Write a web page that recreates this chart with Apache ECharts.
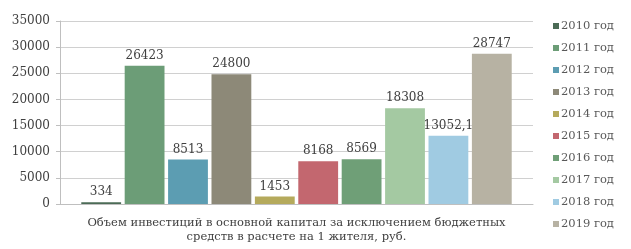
<!DOCTYPE html>
<html>
<head>
<meta charset="utf-8">
<script src="https://cdn.jsdelivr.net/npm/echarts@6/dist/echarts.min.js"></script>
<style>
    html, body { margin: 0; padding: 0; background: #fff; }
    #main { width: 631px; height: 249px; }
</style>
</head>
<body>
<div id="main"></div>
<script>
var years = ['2010 год', '2011 год', '2012 год', '2013 год', '2014 год',
    '2015 год', '2016 год', '2017 год', '2018 год', '2019 год'];
var values = [334, 26423, 8513, 24800, 1453, 8168, 8569, 18308, 13052.1, 28747];
var colors = ['#4b6b56', '#6c9d77', '#5c9db2', '#8d8978', '#b5aa5c',
    '#c3676f', '#6f9f77', '#a4c9a2', '#a0cbe2', '#b7b2a3'];
var categoryName = 'Объем инвестиций в основной капитал за исключением бюджетных\nсредств в расчете на 1 жителя, руб.';

var font = 'DejaVu Serif';

var seriesList = [];
for (var i = 0; i < years.length; i++) {
    seriesList.push({
        name: years[i],
        type: 'bar',
        data: [values[i]],
        barGap: '9%',
        barCategoryGap: '9%',
        itemStyle: { color: colors[i] },
        label: {
            show: true,
            position: 'top',
            distance: 4,
            color: '#404040',
            fontFamily: font,
            fontSize: 12,
            formatter: function (p) {
                return String(p.value).replace('.', ',');
            }
        }
    });
}

var myChart = echarts.init(document.getElementById('main'));
myChart.setOption({
    animation: false,
    color: colors,
    grid: { left: 60, right: 98, top: 21, bottom: 41 },
    legend: {
        orient: 'vertical',
        left: 548,
        top: 15,
        icon: 'rect',
        itemWidth: 6,
        itemHeight: 6,
        itemGap: 10,
        textStyle: {
            color: '#595959',
            fontFamily: font,
            fontSize: 11.5,
            lineHeight: 12,
            padding: [0, 0, 0, -3]
        },
        data: years
    },
    xAxis: {
        type: 'category',
        data: [''],
        axisTick: { show: false },
        axisLabel: { show: false },
        axisLine: { lineStyle: { color: '#bfbfbf' } },
        name: categoryName,
        nameLocation: 'middle',
        nameGap: 12,
        nameTextStyle: {
            color: '#404040',
            fontFamily: font,
            fontSize: 11.5,
            lineHeight: 14
        }
    },
    yAxis: {
        type: 'value',
        min: 0,
        max: 35000,
        interval: 5000,
        axisLine: { show: true, lineStyle: { color: '#bfbfbf' } },
        axisTick: { show: true, length: 4, lineStyle: { color: '#bfbfbf' } },
        axisLabel: {
            color: '#404040',
            fontFamily: font,
            fontSize: 12,
            margin: 10,
            formatter: function (v) { return String(v); }
        },
        splitLine: { lineStyle: { color: '#d0d0d0' } }
    },
    series: seriesList
});
</script>
</body>
</html>
